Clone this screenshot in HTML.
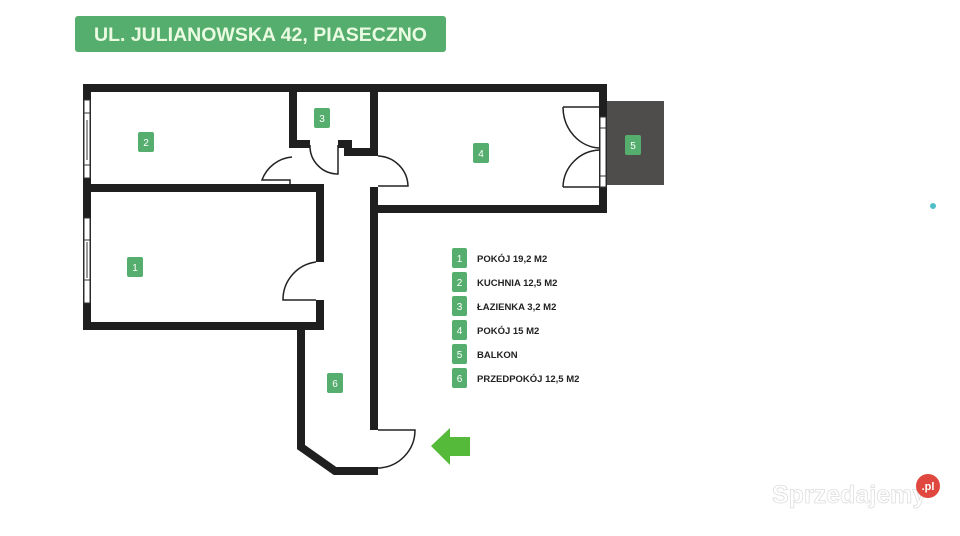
<!DOCTYPE html>
<html><head><meta charset="utf-8"><style>
body{margin:0;background:#fff;width:960px;height:531px;overflow:hidden;font-family:"Liberation Sans",sans-serif}
</style></head><body>
<svg width="960" height="531" viewBox="0 0 960 531" xmlns="http://www.w3.org/2000/svg">
<rect x="75" y="16" width="371" height="36" rx="3" fill="#55ae6d"/>
<text x="260.5" y="41" text-anchor="middle" font-family="Liberation Sans" font-weight="bold" font-size="19.5" fill="#eafbe2">UL. JULIANOWSKA 42, PIASECZNO</text>
<rect x="607" y="101" width="57" height="84" fill="#4f4d4b"/>
<g fill="#1f1f1f">
<rect x="83" y="84" width="524" height="8"/>
<rect x="83" y="84" width="8" height="246"/>
<rect x="83" y="184" width="241" height="8"/>
<rect x="316" y="184" width="8" height="78"/>
<rect x="316" y="300" width="8" height="30"/>
<rect x="83" y="322" width="241" height="8"/>
<rect x="289" y="84" width="8" height="64"/>
<rect x="289" y="140" width="21" height="8"/>
<rect x="338" y="140" width="14" height="8"/>
<rect x="344" y="148" width="34" height="8"/>
<rect x="370" y="84" width="8" height="72"/>
<rect x="370" y="187" width="8" height="243"/>
<rect x="378" y="205" width="229" height="8"/>
<rect x="599" y="84" width="8" height="129"/>
</g>
<polyline points="301,322 301,447 335,471 378,471" fill="none" stroke="#1f1f1f" stroke-width="8"/>
<g fill="#fff" stroke="#333" stroke-width="1">
<rect x="84" y="100" width="6" height="78"/>
<rect x="84" y="218" width="6" height="85"/>
<rect x="600" y="117" width="6" height="70"/>
</g>
<g stroke="#333" stroke-width="1">
<line x1="84" y1="113" x2="90" y2="113"/><line x1="84" y1="165" x2="90" y2="165"/>
<line x1="84" y1="240" x2="90" y2="240"/><line x1="84" y1="280" x2="90" y2="280"/>
<line x1="87" y1="120" x2="87" y2="160"/><line x1="87" y1="242" x2="87" y2="278"/>
<line x1="600" y1="128" x2="606" y2="128"/><line x1="600" y1="176" x2="606" y2="176"/>
</g>
<g fill="none" stroke="#222" stroke-width="1.5">
<path d="M292,157 A35,35 0 0 0 262,180 L290,180 L290,184"/>
<path d="M310,145 A28,28 0 0 0 338,174 L338,145"/>
<path d="M378,156 A31,31 0 0 1 408,186 L378,186"/>
<path d="M316,262 A38,38 0 0 0 283,300 L316,300"/>
<path d="M378,430 L415,430 A38,38 0 0 1 378,468"/>
<path d="M563,107 L600,107 M563,107 A38,41 0 0 0 600,148"/>
<path d="M563,187 L600,187 M563,187 A38,38 0 0 1 600,150"/>
</g>
<g font-family="Liberation Sans" font-size="10" fill="#fff" text-anchor="middle">
<rect x="127" y="257" width="16" height="20" rx="2" fill="#55ae6d"/><text x="135" y="271">1</text>
<rect x="138" y="132" width="16" height="20" rx="2" fill="#55ae6d"/><text x="146" y="146">2</text>
<rect x="314" y="108" width="16" height="20" rx="2" fill="#55ae6d"/><text x="322" y="122">3</text>
<rect x="473" y="143" width="16" height="20" rx="2" fill="#55ae6d"/><text x="481" y="157">4</text>
<rect x="625" y="135" width="16" height="20" rx="2" fill="#55ae6d"/><text x="633" y="149">5</text>
<rect x="327" y="373" width="16" height="20" rx="2" fill="#55ae6d"/><text x="335" y="387">6</text>
</g>
<g font-family="Liberation Sans" font-size="10">
<g fill="#55ae6d">
<rect x="452" y="248" width="15" height="20" rx="2"/><rect x="452" y="272" width="15" height="20" rx="2"/>
<rect x="452" y="296" width="15" height="20" rx="2"/><rect x="452" y="320" width="15" height="20" rx="2"/>
<rect x="452" y="344" width="15" height="20" rx="2"/><rect x="452" y="368" width="15" height="20" rx="2"/>
</g>
<g fill="#fff" text-anchor="middle">
<text x="459.5" y="262">1</text><text x="459.5" y="286">2</text><text x="459.5" y="310">3</text>
<text x="459.5" y="334">4</text><text x="459.5" y="358">5</text><text x="459.5" y="382">6</text>
</g>
<g fill="#222" font-weight="bold" font-size="9.5">
<text x="477" y="262">POKÓJ 19,2 M2</text><text x="477" y="286">KUCHNIA 12,5 M2</text>
<text x="477" y="310">ŁAZIENKA 3,2 M2</text><text x="477" y="334">POKÓJ 15 M2</text>
<text x="477" y="358">BALKON</text><text x="477" y="382">PRZEDPOKÓJ 12,5 M2</text>
</g>
</g>
<polygon points="431,446 450,428 450,437 470,437 470,456 450,456 450,465" fill="#55b93a"/>
<circle cx="933" cy="206" r="3" fill="#4fc0c8"/>
<text x="772" y="503" font-family="Liberation Sans" font-weight="bold" font-size="25" fill="#fff" stroke="#ddd" stroke-width="0.8">Sprzedajemy</text>
<circle cx="928" cy="486" r="12" fill="#e0473e"/>
<text x="928" y="490" text-anchor="middle" font-family="Liberation Sans" font-weight="bold" font-size="11" fill="#fff">.pl</text>
</svg>
</body></html>
